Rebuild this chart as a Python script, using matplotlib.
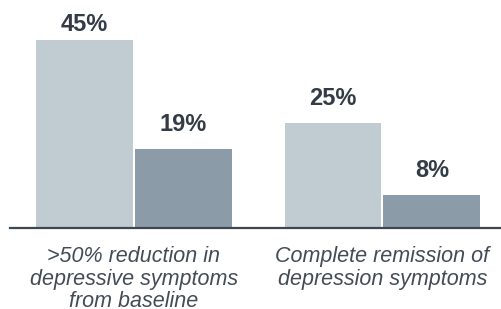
import matplotlib
matplotlib.use("Agg")
import matplotlib.pyplot as plt
import numpy as np

categories = [">50% reduction in\ndepressive symptoms\nfrom baseline",
              "Complete remission of\ndepression symptoms"]
series_a = [45, 25]
series_b = [19, 8]
colors = ["#c1cbd2", "#8b9ba7"]

plt.rcParams['font.family'] = ['Liberation Sans', 'DejaVu Sans']

fig = plt.figure(figsize=(5.01, 3.09), dpi=100)
ax = fig.add_axes([10/501, 1 - 228/309, 491/501, 228/309])

x = np.arange(len(categories))
w = 0.39
gap = 0.004
b1 = ax.bar(x - w/2 - gap, series_a, width=w, color=colors[0])
b2 = ax.bar(x + w/2 + gap, series_b, width=w, color=colors[1])

for bars, vals in ((b1, series_a), (b2, series_b)):
    for rect, v in zip(bars, vals):
        y = min(v + 4.3, 47.0)
        ax.text(rect.get_x() + rect.get_width()/2, y, f"{v}%",
                ha="center", va="baseline", fontsize=17, fontweight="bold",
                color="#333c46")

ax.set_xlim(-0.499, 1.477)
ax.set_ylim(0, 54.5)
ax.set_yticks([])
ax.set_xticks(x)
ax.set_xticklabels(categories, fontsize=15.5, style="italic", color="#434c56",
                   linespacing=1.1)
ax.tick_params(axis="x", length=0, pad=13)
for s in ("top", "right", "left"):
    ax.spines[s].set_visible(False)
ax.spines["bottom"].set_color("#3c4752")
ax.spines["bottom"].set_linewidth(1.6)

fig.savefig("out.png", dpi=100)
